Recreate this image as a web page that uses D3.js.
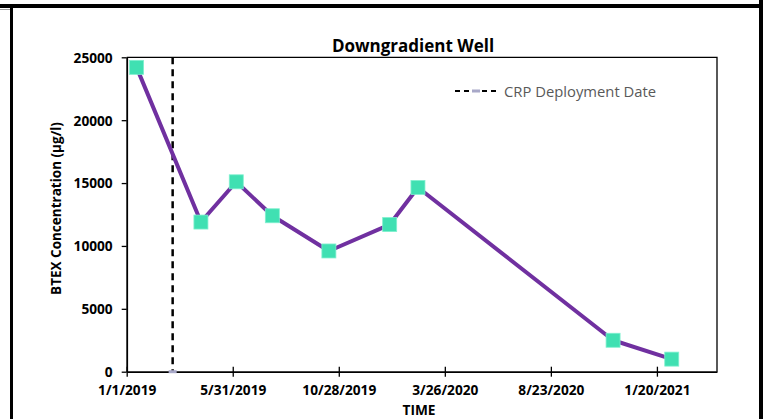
<!DOCTYPE html>
<html>
<head>
<meta charset="utf-8">
<script src="https://cdn.jsdelivr.net/npm/d3@7"></script>
<style>
  html, body { margin: 0; padding: 0; background: #fff; }
  svg { display: block; }
</style>
</head>
<body>
<svg id="chart" width="767" height="419"></svg>
<script>
// ---- Data ----
const sampleDates = ["2019-01-15", "2019-04-16", "2019-06-05", "2019-07-26", "2019-10-14",
                     "2020-01-08", "2020-02-17", "2020-11-19", "2021-02-10"];
const btexValues = [24200, 11900, 15100, 12400, 9600, 11700, 14650, 2500, 1000];
const deploymentDate = "2019-03-07";
const deploymentRange = [0, 25000];
const xTickLabels = ["1/1/2019", "5/31/2019", "10/28/2019", "3/26/2020", "8/23/2020", "1/20/2021"];
const yTickValues = [0, 5000, 10000, 15000, 20000, 25000];
const chartTitle = "Downgradient Well";
const xAxisTitle = "TIME";
const yAxisTitle = "BTEX Concentration (μg/l)";
const legendLabel = "CRP Deployment Date";

// ---- Setup ----
const parse = d3.timeParse("%Y-%m-%d");
const tickParse = d3.timeParse("%m/%d/%Y");
const svg = d3.select("#chart");
const font = "'Open Sans', 'DejaVu Sans', sans-serif";

const plot = { left: 126.7, right: 717, top: 57.3, bottom: 371.7 };
const xStart = parse("2019-01-01");
const xEnd = d3.timeDay.offset(xStart, 835);

const x = d3.scaleTime().domain([xStart, xEnd]).range([plot.left, plot.right]);
const y = d3.scaleLinear().domain([0, 25000]).range([plot.bottom, plot.top]);

// ---- Outer frame ----
svg.append("rect").attr("x", 0).attr("y", 4).attr("width", 763).attr("height", 4).attr("fill", "#000");
svg.append("rect").attr("x", 0).attr("y", 9).attr("width", 10).attr("height", 1).attr("fill", "#9a9a9a");
svg.append("rect").attr("x", 10).attr("y", 8).attr("width", 3).attr("height", 411).attr("fill", "#000");
svg.append("rect").attr("x", 759).attr("y", 0).attr("width", 4).attr("height", 419).attr("fill", "#000");

// ---- Plot border (top & right) ----
svg.append("path")
  .attr("d", `M${plot.left},${plot.top}H${plot.right}V${plot.bottom}`)
  .attr("fill", "none").attr("stroke", "#000").attr("stroke-width", 1.3);

// ---- Axes ----
const xAxis = d3.axisBottom(x)
  .tickValues(xTickLabels.map(t => tickParse(t)))
  .tickFormat(d => xTickLabels[xTickLabels.map(t => +tickParse(t)).indexOf(+d)])
  .tickSizeInner(5).tickSizeOuter(0).tickPadding(9);
const gx = svg.append("g").attr("transform", `translate(0,${plot.bottom})`).call(xAxis);
gx.select(".domain").attr("stroke", "#000").attr("stroke-width", 1.8);
gx.selectAll(".tick line").attr("y1", -5).attr("y2", 5).attr("stroke-width", 1.3);
gx.selectAll(".tick text").attr("font-family", font).attr("font-weight", "bold")
  .attr("font-size", 13.7).attr("fill", "#000");

const yAxis = d3.axisLeft(y).tickValues(yTickValues).tickFormat(d3.format("d"))
  .tickSizeInner(5).tickSizeOuter(0).tickPadding(9);
const gy = svg.append("g").attr("transform", `translate(${plot.left},0)`).call(yAxis);
gy.select(".domain").attr("stroke", "#000").attr("stroke-width", 1.8);
gy.selectAll(".tick line").attr("stroke-width", 1.3);
gy.selectAll(".tick text").attr("font-family", font).attr("font-weight", "bold")
  .attr("font-size", 13.7).attr("fill", "#000").attr("dy", "0.36em");

// ---- Deployment dashed line ----
const dep = parse(deploymentDate);
svg.append("line")
  .attr("x1", x(dep)).attr("x2", x(dep))
  .attr("y1", y(deploymentRange[1])).attr("y2", y(deploymentRange[0]))
  .attr("stroke", "#000").attr("stroke-width", 2.5).attr("stroke-dasharray", "7,5");
svg.append("rect")
  .attr("x", x(dep) - 4).attr("y", y(deploymentRange[0]) - 1.5)
  .attr("width", 8).attr("height", 3).attr("fill", "#a8a8c8");

// ---- Data line ----
const pts = sampleDates.map((d, i) => ({ date: parse(d), value: btexValues[i] }));
const line = d3.line().x(d => x(d.date)).y(d => y(d.value));
svg.append("path").datum(pts).attr("d", line)
  .attr("fill", "none").attr("stroke", "#7030A0").attr("stroke-width", 4)
  .attr("stroke-linejoin", "round");

const ms = 14;
svg.selectAll("rect.marker").data(pts).enter().append("rect")
  .attr("class", "marker")
  .attr("x", d => x(d.date) - ms / 2).attr("y", d => y(d.value) - ms / 2)
  .attr("width", ms).attr("height", ms)
  .attr("fill", "#40E0B2").attr("stroke", "#7ff0cf").attr("stroke-width", 0.8);

// ---- Titles ----
svg.append("text").attr("x", 413).attr("y", 51.7).attr("text-anchor", "middle")
  .attr("font-family", font).attr("font-weight", "bold").attr("font-size", 17)
  .attr("fill", "#000").text(chartTitle);
svg.append("text").attr("x", 419).attr("y", 415).attr("text-anchor", "middle")
  .attr("font-family", font).attr("font-weight", "bold").attr("font-size", 13.7)
  .attr("fill", "#000").text(xAxisTitle);
svg.append("text").attr("transform", "translate(61,208.5) rotate(-90)").attr("text-anchor", "middle")
  .attr("font-family", font).attr("font-weight", "bold").attr("font-size", 13.5)
  .attr("fill", "#000").text(yAxisTitle);

// ---- Legend ----
const lg = svg.append("g").attr("transform", "translate(455,91)");
lg.append("line").attr("x1", 0).attr("x2", 42).attr("y1", 0).attr("y2", 0)
  .attr("stroke", "#000").attr("stroke-width", 2).attr("stroke-dasharray", "5,4");
lg.append("rect").attr("x", 17).attr("y", -1.5).attr("width", 8).attr("height", 3).attr("fill", "#a8a8c8");
lg.append("text").attr("x", 49).attr("y", 5.5)
  .attr("font-family", font).attr("font-size", 14.8).attr("fill", "#595959").text(legendLabel);
</script>
</body>
</html>
